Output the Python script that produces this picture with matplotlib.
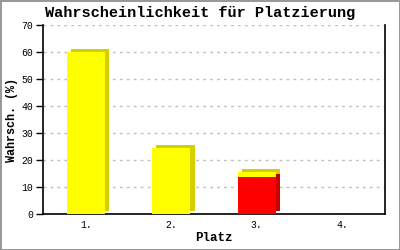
import matplotlib
matplotlib.use('Agg')
import matplotlib.pyplot as plt
import numpy as np

PLACES = ['1.', '2.', '3.', '4.']
YELLOW_VALUES = [60, 24.5, 1.6, 0]
RED_VALUES = [0, 0, 13.8, 0]
Y_TICKS = [0, 10, 20, 30, 40, 50, 60, 70]

FONT = 'Liberation Mono'
WIDTH = 0.45
DEPTH_X = 0.05
DEPTH_Y = 1.1


def draw_3d_bars(ax, x, heights, bottoms, face, side):
    heights = np.array(heights)
    bottoms = np.array(bottoms)
    mask = heights > 0
    ax.bar(x[mask] + DEPTH_X, heights[mask], WIDTH, bottom=bottoms[mask] + DEPTH_Y,
           color=side, zorder=2)
    ax.bar(x[mask], heights[mask], WIDTH, bottom=bottoms[mask], color=face, zorder=3)


def main():
    fig = plt.figure(figsize=(4, 2.5), dpi=100)
    fig.patch.set_edgecolor('#999999')
    fig.patch.set_linewidth(2)
    ax = fig.add_axes([0.1075, 0.144, 0.855, 0.756])
    x = np.arange(len(PLACES))

    draw_3d_bars(ax, x, RED_VALUES, np.zeros(len(x)), '#ff0000', '#c80000')
    draw_3d_bars(ax, x, YELLOW_VALUES, RED_VALUES, '#ffff00', '#d4d000')

    ax.set_xlim(-0.5, 3.5)
    ax.set_ylim(0, 70)
    ax.set_yticks(Y_TICKS)
    ax.set_xticks(x)
    ax.set_xticklabels(PLACES)
    ax.tick_params(axis='x', length=0, pad=4, labelsize=7)
    ax.tick_params(axis='y', length=5, width=1, pad=2, labelsize=7)
    for lbl in ax.get_xticklabels() + ax.get_yticklabels():
        lbl.set_family(FONT)
    ax.yaxis.grid(True, linestyle=(0, (2, 3)), color='#c0c0c0', linewidth=1, zorder=0)
    ax.set_axisbelow(True)
    ax.spines['top'].set_visible(False)
    for s in ['left', 'right', 'bottom']:
        ax.spines[s].set_linewidth(1.2)

    fig.text(0.5, 0.948, 'Wahrscheinlichkeit für Platzierung', family=FONT, fontsize=11,
             fontweight='bold', ha='center', va='center')
    ax.set_xlabel('Platz', family=FONT, fontsize=9, fontweight='bold', labelpad=2)
    ax.set_ylabel('Wahrsch. (%)', family=FONT, fontsize=8.5, fontweight='bold')
    ax.yaxis.set_label_coords(-0.072, 0.5)
    fig.savefig('out.png', dpi=100, edgecolor=fig.get_edgecolor())

main()
